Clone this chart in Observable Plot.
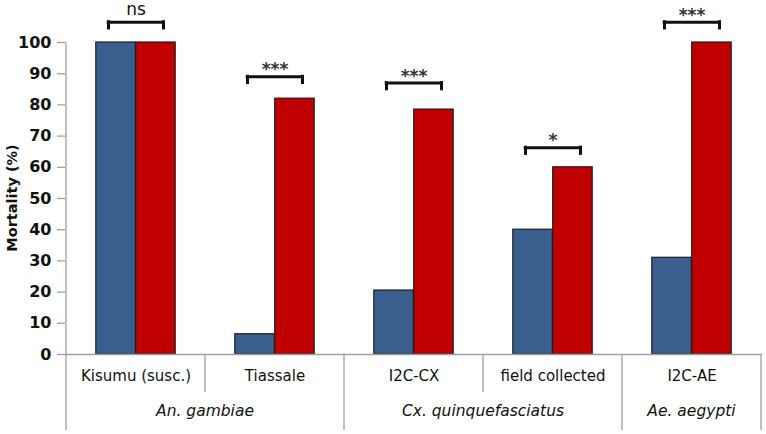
<!DOCTYPE html>
<html><head><meta charset="utf-8">
<script src="https://cdn.jsdelivr.net/npm/d3@7"></script>
<script src="https://cdn.jsdelivr.net/npm/@observablehq/plot@0.6"></script>
<style>body{margin:0;background:#fff}</style>
</head><body><div id="chart"></div>
<script>
const categories = ["Kisumu (susc.)", "Tiassale", "I2C-CX", "field collected", "I2C-AE"];
const blueValues = [100, 6.5, 20.5, 40, 31];
const redValues = [100, 82, 78.5, 60, 100];
const significance = ["ns", "***", "***", "*", "***"];
const bracketLevels = [106.5, 89, 87, 66.3, 106.5];
const speciesNames = ["An. gambiae", "Cx. quinquefasciatus", "Ae. aegypti"];
const speciesOfCategory = [0, 0, 1, 1, 2];
const yTicks = [0, 10, 20, 30, 40, 50, 60, 70, 80, 90, 100];

const blueRows = categories.map((c, i) => ({cat: c, value: blueValues[i]}));
const redRows = categories.map((c, i) => ({cat: c, value: redValues[i]}));
const sigRows = categories.map((c, i) => ({cat: c, level: bracketLevels[i], sig: significance[i]}));

const BLUE = "#3a5f8f", RED = "#c00000", GREY = "#a0a0a0", INK = "#111";
const halfBracket = 27.5;

const chart = Plot.plot({
  width: 766, height: 434,
  marginLeft: 65, marginRight: 4, marginTop: 42, marginBottom: 80,
  style: {fontFamily: "DejaVu Sans", background: "#fff", color: INK},
  x: {domain: categories, padding: 0, axis: null},
  y: {domain: [0, 100], axis: null},
  marks: [
    Plot.axisY({ticks: yTicks, tickSize: 8, text: null, stroke: GREY, strokeWidth: 1.3}),
    Plot.axisY({ticks: yTicks, tickSize: 0, tickPadding: 14, fontSize: 16, fontWeight: "bold", label: null}),
    Plot.barY(blueRows, {x: "cat", y: "value", fill: BLUE, stroke: "#1e1e1e", strokeWidth: 1.2, insetLeft: 29.8, insetRight: 69.7}),
    Plot.barY(redRows, {x: "cat", y: "value", fill: RED, stroke: "#1e1e1e", strokeWidth: 1.2, insetLeft: 69.7, insetRight: 29.8}),
    Plot.ruleY([0], {stroke: GREY, strokeWidth: 1.3}),
    Plot.tickY(sigRows, {x: "cat", y: "level", insetLeft: 69.7 - halfBracket, insetRight: 69.7 - halfBracket, stroke: INK, strokeWidth: 3, strokeLinecap: "square"}),
    Plot.ruleX(sigRows, {x: "cat", y1: "level", y2: d => d.level - 2, dx: -halfBracket, stroke: INK, strokeWidth: 3, strokeLinecap: "square"}),
    Plot.ruleX(sigRows, {x: "cat", y1: "level", y2: d => d.level - 2, dx: halfBracket, stroke: INK, strokeWidth: 3, strokeLinecap: "square"}),
    Plot.text(sigRows.filter(d => d.sig === "ns"), {x: "cat", y: "level", text: "sig", dy: -12.5, fontSize: 17, fill: INK}),
    Plot.text(sigRows.filter(d => d.sig !== "ns"), {x: "cat", y: "level", text: "sig", dy: -7, fontSize: 17, fontWeight: "bold", fill: "#333"}),
    Plot.text(categories, {x: d => d, frameAnchor: "bottom", dy: 26, fontSize: 15, fill: INK})
  ]
});
document.getElementById("chart").appendChild(chart);

const svg = d3.select(chart);
const xs = chart.scale("x"), ys = chart.scale("y");
const bw = xs.bandwidth;
const y0 = ys.apply(0);
const g = svg.append("g").attr("stroke", GREY).attr("stroke-width", 1.3);
g.append("line").attr("x1", xs.apply(categories[0])).attr("x2", xs.apply(categories[0]))
  .attr("y1", ys.apply(100)).attr("y2", y0);
for (let i = 0; i <= categories.length; i++) {
  const x = i < categories.length ? xs.apply(categories[i]) : xs.apply(categories[categories.length - 1]) + bw;
  const long = i === 0 || i === categories.length || speciesOfCategory[i] !== speciesOfCategory[i - 1];
  g.append("line").attr("x1", x).attr("x2", x).attr("y1", y0).attr("y2", y0 + (long ? 76 : 38));
}
speciesNames.forEach((name, s) => {
  const cats = categories.filter((c, i) => speciesOfCategory[i] === s);
  const cx = d3.mean(cats, c => xs.apply(c) + bw / 2);
  svg.append("text").attr("x", cx).attr("y", y0 + 57).attr("dy", "0.32em")
    .attr("text-anchor", "middle").attr("font-style", "italic").attr("font-size", 15.5)
    .attr("font-family", "DejaVu Sans").attr("fill", INK).text(name);
});
svg.append("text").attr("transform", `translate(12,${(ys.apply(100) + y0) / 2}) rotate(-90)`)
  .attr("dy", "0.35em").attr("text-anchor", "middle").attr("font-weight", "bold")
  .attr("font-size", 14.5).attr("font-family", "DejaVu Sans").attr("fill", INK).text("Mortality (%)");
</script>
</body></html>
